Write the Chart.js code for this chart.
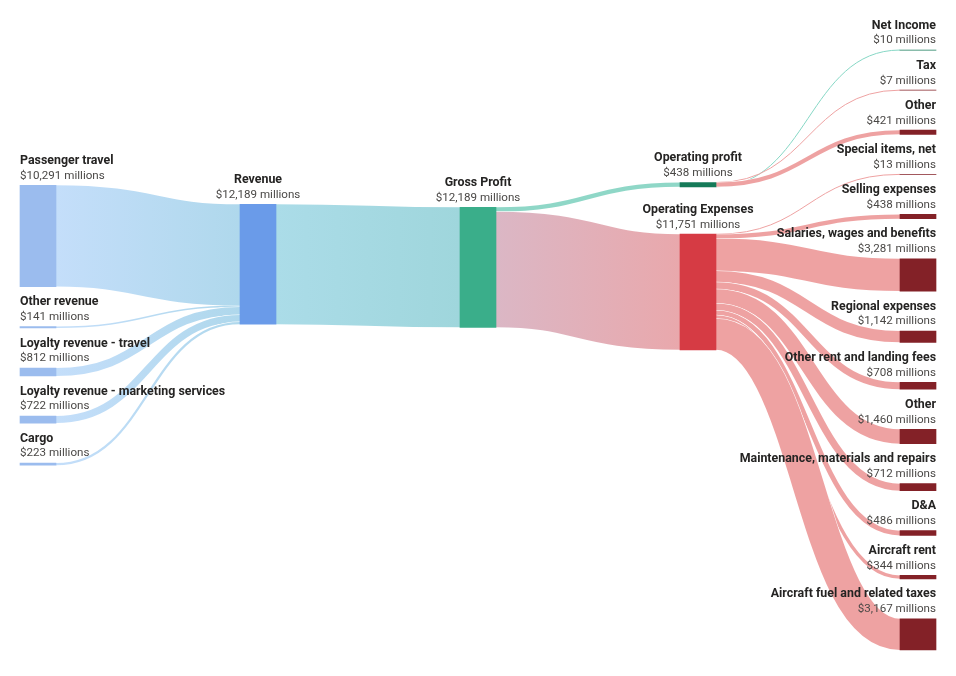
<!DOCTYPE html>
<html>
<head>
<meta charset="utf-8">
<script src="https://cdn.jsdelivr.net/npm/chart.js@4.4.1/dist/chart.umd.min.js"></script>
<style>
  html, body { margin: 0; padding: 0; background: #fff; }
  #wrap { width: 956px; height: 676px; position: relative; }
</style>
</head>
<body>
<div id="wrap"><canvas id="sankey"></canvas></div>
<script>
// nodes, in input order
const nodeNames = [
  'Passenger travel', 'Other revenue', 'Loyalty revenue - travel',
  'Loyalty revenue - marketing services', 'Cargo',
  'Revenue', 'Gross Profit', 'Operating profit', 'Operating Expenses',
  'Net Income', 'Tax', 'Other', 'Special items, net', 'Selling expenses',
  'Salaries, wages and benefits', 'Regional expenses', 'Other rent and landing fees',
  'Other', 'Maintenance, materials and repairs', 'D&A', 'Aircraft rent',
  'Aircraft fuel and related taxes'
];

// flows: source index -> target index, $ millions
const linkSources = [0, 1, 2, 3, 4, 5, 6, 6, 7, 7, 7, 8, 8, 8, 8, 8, 8, 8, 8, 8, 8];
const linkTargets = [5, 5, 5, 5, 5, 6, 7, 8, 9, 10, 11, 12, 13, 14, 15, 16, 17, 18, 19, 20, 21];
const linkValues = [10291, 141, 812, 722, 223, 12189, 438, 11751, 10, 7, 421,
  13, 438, 3281, 1142, 708, 1460, 712, 486, 344, 3167];

// styles
const nodeColors = [
  '#9bbcee', '#9bbcee', '#9bbcee', '#9bbcee', '#9bbcee',
  '#6a9be9', '#3aae8a', '#157a58', '#d63b44',
  '#157a58', '#832127', '#832127', '#832127', '#832127', '#832127', '#832127',
  '#832127', '#832127', '#832127', '#832127', '#832127', '#832127'
];
const BLUE = ['#c4defa', '#afd8ec'];
const PINK = ['#eea2a2', '#eea2a2'];
const linkColors = [
  BLUE, BLUE, BLUE, BLUE, BLUE,
  ['#abdce8', '#9fd6dc'], ['#8fd7c7', '#8fd7c7'], ['#dbb7c5', '#e9a8ac'],
  ['#86d7c5', '#86d7c5'], PINK, PINK,
  PINK, PINK, PINK, PINK, PINK, PINK, PINK, PINK, PINK, PINK
];

const TOP = 50;        // px above the first node
const EXTENT = 600;    // px height of the node area
const NODE_PAD = 40;   // px between nodes in a column
const NODE_W = 36;
const SIDE = 20;
const ITERATIONS = 6;

// d3-sankey style layout (input order kept), worked out in px then turned into $ millions
function sankeyLayout() {
  const nodes = nodeNames.map((name, index) => ({ index, name, sourceLinks: [], targetLinks: [] }));
  const links = linkValues.map((value, index) => ({
    index, value, source: nodes[linkSources[index]], target: nodes[linkTargets[index]]
  }));
  links.forEach(l => { l.source.sourceLinks.push(l); l.target.targetLinks.push(l); });
  const total = arr => arr.reduce((s, d) => s + d.value, 0);
  nodes.forEach(n => { n.value = Math.max(total(n.sourceLinks), total(n.targetLinks)); });

  let current = new Set(nodes), next = new Set(), depth = 0;
  while (current.size) {
    for (const n of current) {
      n.depth = depth;
      for (const l of n.sourceLinks) next.add(l.target);
    }
    depth++;
    current = next;
    next = new Set();
  }
  const columns = Array.from({ length: depth }, () => []);
  nodes.forEach(n => columns[n.depth].push(n));

  const y0 = 0, y1 = EXTENT;
  const maxLen = Math.max(...columns.map(c => c.length));
  const py = Math.min(NODE_PAD, (y1 - y0) / (maxLen - 1));
  const ky = Math.min(...columns.map(c => (y1 - y0 - (c.length - 1) * py) / total(c)));

  const byY = (a, b) => a.y0 - b.y0;
  const bySource = (a, b) => byY(a.source, b.source) || a.index - b.index;
  const byTarget = (a, b) => byY(a.target, b.target) || a.index - b.index;

  function reorderLinks(col) {
    for (const n of col) {
      n.sourceLinks.sort(byTarget);
      n.targetLinks.sort(bySource);
    }
  }
  function reorderNodeLinks(n) {
    for (const l of n.targetLinks) l.source.sourceLinks.sort(byTarget);
    for (const l of n.sourceLinks) l.target.targetLinks.sort(bySource);
  }

  for (const col of columns) {
    let y = y0;
    for (const n of col) {
      n.y0 = y;
      n.y1 = y + n.value * ky;
      y = n.y1 + py;
      for (const l of n.sourceLinks) l.width = l.value * ky;
    }
    y = (y1 - y + py) / (col.length + 1);
    col.forEach((n, i) => { n.y0 += y * (i + 1); n.y1 += y * (i + 1); });
    reorderLinks(col);
  }

  function targetTop(source, target) {
    let y = source.y0 - (source.sourceLinks.length - 1) * py / 2;
    for (const l of source.sourceLinks) {
      if (l.target === target) break;
      y += l.width + py;
    }
    for (const l of target.targetLinks) {
      if (l.source === source) break;
      y -= l.width;
    }
    return y;
  }
  function sourceTop(source, target) {
    let y = target.y0 - (target.targetLinks.length - 1) * py / 2;
    for (const l of target.targetLinks) {
      if (l.source === source) break;
      y += l.width + py;
    }
    for (const l of source.sourceLinks) {
      if (l.target === target) break;
      y -= l.width;
    }
    return y;
  }

  function topToBottom(col, y, i, alpha) {
    for (; i < col.length; ++i) {
      const n = col[i];
      const dy = (y - n.y0) * alpha;
      if (dy > 1e-6) { n.y0 += dy; n.y1 += dy; }
      y = n.y1 + py;
    }
  }
  function bottomToTop(col, y, i, alpha) {
    for (; i >= 0; --i) {
      const n = col[i];
      const dy = (n.y1 - y) * alpha;
      if (dy > 1e-6) { n.y0 -= dy; n.y1 -= dy; }
      y = n.y0 - py;
    }
  }
  function resolveCollisions(col, alpha) {
    const i = col.length >> 1;
    const subject = col[i];
    bottomToTop(col, subject.y0 - py, i - 1, alpha);
    topToBottom(col, subject.y1 + py, i + 1, alpha);
    bottomToTop(col, y1, col.length - 1, alpha);
    topToBottom(col, y0, 0, alpha);
  }

  function relaxLeftToRight(alpha, beta) {
    for (let i = 1; i < columns.length; ++i) {
      const col = columns[i];
      for (const target of col) {
        let y = 0, w = 0;
        for (const l of target.targetLinks) {
          const v = l.value * (target.depth - l.source.depth);
          y += targetTop(l.source, target) * v;
          w += v;
        }
        if (!(w > 0)) continue;
        const dy = (y / w - target.y0) * alpha;
        target.y0 += dy; target.y1 += dy;
        reorderNodeLinks(target);
      }
      resolveCollisions(col, beta);
    }
  }
  function relaxRightToLeft(alpha, beta) {
    for (let i = columns.length - 2; i >= 0; --i) {
      const col = columns[i];
      for (const source of col) {
        let y = 0, w = 0;
        for (const l of source.sourceLinks) {
          const v = l.value * (l.target.depth - source.depth);
          y += sourceTop(source, l.target) * v;
          w += v;
        }
        if (!(w > 0)) continue;
        const dy = (y / w - source.y0) * alpha;
        source.y0 += dy; source.y1 += dy;
        reorderNodeLinks(source);
      }
      resolveCollisions(col, beta);
    }
  }

  for (let i = 0; i < ITERATIONS; ++i) {
    const alpha = Math.pow(0.99, i);
    const beta = Math.max(1 - alpha, (i + 1) / ITERATIONS);
    relaxRightToLeft(alpha, beta);
    relaxLeftToRight(alpha, beta);
  }

  for (const n of nodes) {
    let a = n.y0, b = n.y0;
    for (const l of n.sourceLinks) { l.y0 = a + l.width / 2; a += l.width; }
    for (const l of n.targetLinks) { l.y1 = b + l.width / 2; b += l.width; }
  }

  // px -> $ millions
  nodes.forEach(n => { n.v0 = n.y0 / ky; n.v1 = n.y1 / ky; });
  links.forEach(l => { l.v0 = l.y0 / ky; l.v1 = l.y1 / ky; });
  return { nodes, links, ky, columns: columns.length };
}

const layout = sankeyLayout();
const wrap = document.getElementById('wrap');
const W = wrap.clientWidth, H = wrap.clientHeight;
const colStep = (W - 2 * SIDE - NODE_W) / (layout.columns - 1);
const x0px = SIDE + NODE_W / 2;

const sankeyLinks = {
  id: 'sankeyLinks',
  beforeDatasetsDraw(chart) {
    const { ctx, scales: { x, y } } = chart;
    const unit = Math.abs(y.getPixelForValue(1000) - y.getPixelForValue(0)) / 1000;
    ctx.save();
    ctx.lineCap = 'butt';
    layout.links.forEach(l => {
      const xa = x.getPixelForValue(l.source.depth) + NODE_W / 2;
      const xb = x.getPixelForValue(l.target.depth) - NODE_W / 2;
      const ya = y.getPixelForValue(l.v0);
      const yb = y.getPixelForValue(l.v1);
      const w = Math.max(1, l.value * unit);
      const xm = (xa + xb) / 2;
      ctx.beginPath();
      ctx.moveTo(xa, ya);
      ctx.bezierCurveTo(xm, ya, xm, yb, xb, yb);
      if (w > 2) {
        ctx.strokeStyle = '#ffffff';
        ctx.lineWidth = w + 1;
        ctx.stroke();
      }
      const c = linkColors[l.index];
      const g = ctx.createLinearGradient(xa, 0, xb, 0);
      g.addColorStop(0, c[0]);
      g.addColorStop(1, c[1]);
      ctx.strokeStyle = g;
      ctx.lineWidth = w;
      ctx.stroke();
    });
    ctx.restore();
  }
};

const sankeyLabels = {
  id: 'sankeyLabels',
  afterDatasetsDraw(chart) {
    const { ctx, scales: { x, y } } = chart;
    const last = layout.columns - 1;
    ctx.save();
    ctx.textBaseline = 'middle';
    layout.nodes.forEach(n => {
      const cx = x.getPixelForValue(n.depth);
      const top = y.getPixelForValue(n.v0);
      let tx = cx;
      ctx.textAlign = 'center';
      if (n.depth === 0) { ctx.textAlign = 'left'; tx = cx - NODE_W / 2; }
      if (n.depth === last) { ctx.textAlign = 'right'; tx = cx + NODE_W / 2; }
      ctx.font = 'bold 12.4px Roboto, "Open Sans", sans-serif';
      ctx.fillStyle = '#252423';
      ctx.fillText(n.name, tx, top - 24.5);
      ctx.font = '11.6px Roboto, "Open Sans", sans-serif';
      ctx.fillStyle = '#4a4846';
      ctx.fillText('$' + n.value.toLocaleString('en-US') + ' millions', tx, top - 9.5);
    });
    ctx.restore();
  }
};

new Chart(document.getElementById('sankey'), {
  type: 'bar',
  data: {
    datasets: [{
      data: layout.nodes.map(n => ({ x: n.depth, y: [n.v0, n.v1] })),
      backgroundColor: nodeColors,
      barThickness: NODE_W,
      borderWidth: 0
    }]
  },
  options: {
    responsive: true,
    maintainAspectRatio: false,
    animation: false,
    layout: { padding: 0 },
    plugins: {
      legend: { display: false },
      tooltip: { enabled: false }
    },
    scales: {
      x: {
        type: 'linear', display: false, offset: false,
        min: -x0px / colStep, max: (W - x0px) / colStep
      },
      y: {
        type: 'linear', display: false, reverse: true,
        min: -TOP / layout.ky, max: (H - TOP) / layout.ky
      }
    }
  },
  plugins: [sankeyLinks, sankeyLabels]
});
</script>
</body>
</html>
